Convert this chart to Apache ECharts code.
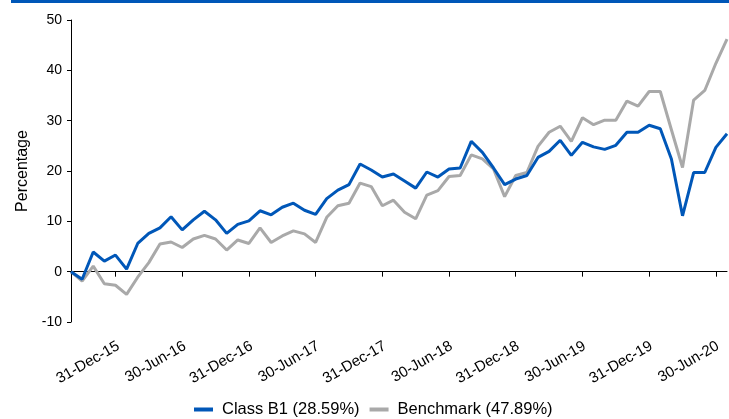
<!DOCTYPE html>
<html>
<head>
<meta charset="utf-8">
<script src="https://cdn.jsdelivr.net/npm/echarts@6/dist/echarts.min.js"></script>
<style>
html,body{margin:0;padding:0;background:#fff;}
#chart{width:729px;height:419px;}
</style>
</head>
<body>
<div id="chart"></div>
<script>
var dates = [
  "31-Aug-15","30-Sep-15","31-Oct-15","30-Nov-15","31-Dec-15",
  "31-Jan-16","29-Feb-16","31-Mar-16","30-Apr-16","31-May-16","30-Jun-16","31-Jul-16","31-Aug-16","30-Sep-16","31-Oct-16","30-Nov-16","31-Dec-16",
  "31-Jan-17","28-Feb-17","31-Mar-17","30-Apr-17","31-May-17","30-Jun-17","31-Jul-17","31-Aug-17","30-Sep-17","31-Oct-17","30-Nov-17","31-Dec-17",
  "31-Jan-18","28-Feb-18","31-Mar-18","30-Apr-18","31-May-18","30-Jun-18","31-Jul-18","31-Aug-18","30-Sep-18","31-Oct-18","30-Nov-18","31-Dec-18",
  "31-Jan-19","28-Feb-19","31-Mar-19","30-Apr-19","31-May-19","30-Jun-19","31-Jul-19","31-Aug-19","30-Sep-19","31-Oct-19","30-Nov-19","31-Dec-19",
  "31-Jan-20","29-Feb-20","31-Mar-20","30-Apr-20","31-May-20","30-Jun-20","31-Jul-20"
];
var tickLabels = ["31-Dec-15","30-Jun-16","31-Dec-16","30-Jun-17","31-Dec-17","30-Jun-18","31-Dec-18","30-Jun-19","31-Dec-19","30-Jun-20"];
var classB1 = [0, -1.5, 3.9, 2.1, 3.3, 0.5, 5.6, 7.6, 8.7, 10.9,
  8.3, 10.3, 12.0, 10.3, 7.6, 9.4, 10.1, 12.1, 11.3, 12.8,
  13.6, 12.2, 11.4, 14.5, 16.2, 17.3, 21.4, 20.2, 18.8, 19.4,
  18.0, 16.6, 19.8, 18.8, 20.4, 20.6, 25.9, 23.7, 20.6, 17.3,
  18.4, 19.1, 22.7, 23.9, 26.1, 23.1, 25.7, 24.8, 24.3, 25.1,
  27.7, 27.7, 29.1, 28.4, 22.4, 11.1, 19.7, 19.7, 24.7, 27.4];
var benchmark = [0, -1.9, 1.1, -2.4, -2.7, -4.5, -1.1, 1.8, 5.5, 5.9,
  4.8, 6.5, 7.2, 6.5, 4.3, 6.3, 5.6, 8.7, 5.8, 7.1,
  8.1, 7.5, 5.8, 10.8, 13.1, 13.6, 17.6, 16.9, 13.1, 14.2,
  11.8, 10.5, 15.2, 16.1, 18.9, 19.1, 23.2, 22.4, 20.4, 14.9,
  19.1, 19.7, 24.9, 27.7, 28.9, 25.9, 30.6, 29.2, 30.1, 30.1,
  33.9, 32.9, 35.8, 35.8, 28.2, 20.7, 34.1, 36.0, 41.4, 46.2];
var seriesNames = ["Class B1 (28.59%)", "Benchmark (47.89%)"];
var yTitle = "Percentage";

var BLUE = "#0057B8", GRAY = "#A9A9A9";
var FONT = "Liberation Sans, Arial, sans-serif";
function showTick(idx, val) { return tickLabels.indexOf(typeof val === "string" ? val : dates[idx]) >= 0; }

var chart = echarts.init(document.getElementById("chart"), null, {renderer: "canvas"});
chart.setOption({
  animation: false,
  backgroundColor: "#fff",
  textStyle: {fontFamily: FONT},
  graphic: [{type: "rect", left: 11, top: 0, shape: {width: 718, height: 3}, style: {fill: BLUE}}],
  grid: [
    {left: 71, right: 2, top: 20, bottom: 97},
    {left: 74, right: -1, top: 20, bottom: 97}
  ],
  legend: {
    data: seriesNames, left: 189, top: 396, icon: "rect", itemWidth: 19, itemHeight: 4, itemGap: 10,
    textStyle: {fontSize: 16.5, color: "#000", fontFamily: FONT, padding: [0, 0, 0, 4]}
  },
  xAxis: [{
    type: "category", data: dates, boundaryGap: false, position: "bottom", gridIndex: 0,
    axisLine: {onZero: true, lineStyle: {color: "#000", width: 1}},
    axisTick: {show: true, length: 5, interval: function (i, v) { return showTick(i, v); }, lineStyle: {color: "#000"}},
    axisLabel: {show: false}, splitLine: {show: false}
  }, {
    type: "category", data: dates, boundaryGap: false, position: "bottom", gridIndex: 1,
    axisLine: {show: false, onZero: false}, axisTick: {show: false}, splitLine: {show: false},
    axisLabel: {show: true, rotate: 30, margin: 23, fontSize: 15, color: "#000", fontFamily: FONT,
      interval: function (i, v) { return showTick(i, v); }}
  }],
  yAxis: [{
    type: "value", min: -10, max: 50, interval: 10, gridIndex: 0,
    name: yTitle, nameLocation: "middle", nameGap: 39, nameRotate: 90,
    nameTextStyle: {fontSize: 16, color: "#000", fontFamily: FONT},
    axisLine: {show: true, lineStyle: {color: "#000", width: 1}},
    axisTick: {show: true, length: 4, inside: false, lineStyle: {color: "#000"}},
    axisLabel: {fontSize: 14, color: "#000", margin: 9, fontFamily: FONT},
    splitLine: {show: false}
  }, {
    type: "value", min: -10, max: 50, interval: 10, gridIndex: 1, show: false
  }],
  series: [
    {name: seriesNames[1], type: "line", data: benchmark, xAxisIndex: 0, yAxisIndex: 0, symbol: "none", smooth: false,
      lineStyle: {color: GRAY, width: 3}, itemStyle: {color: GRAY}},
    {name: seriesNames[0], type: "line", data: classB1, xAxisIndex: 0, yAxisIndex: 0, symbol: "none", smooth: false,
      lineStyle: {color: BLUE, width: 3}, itemStyle: {color: BLUE}}
  ]
});
</script>
</body>
</html>
